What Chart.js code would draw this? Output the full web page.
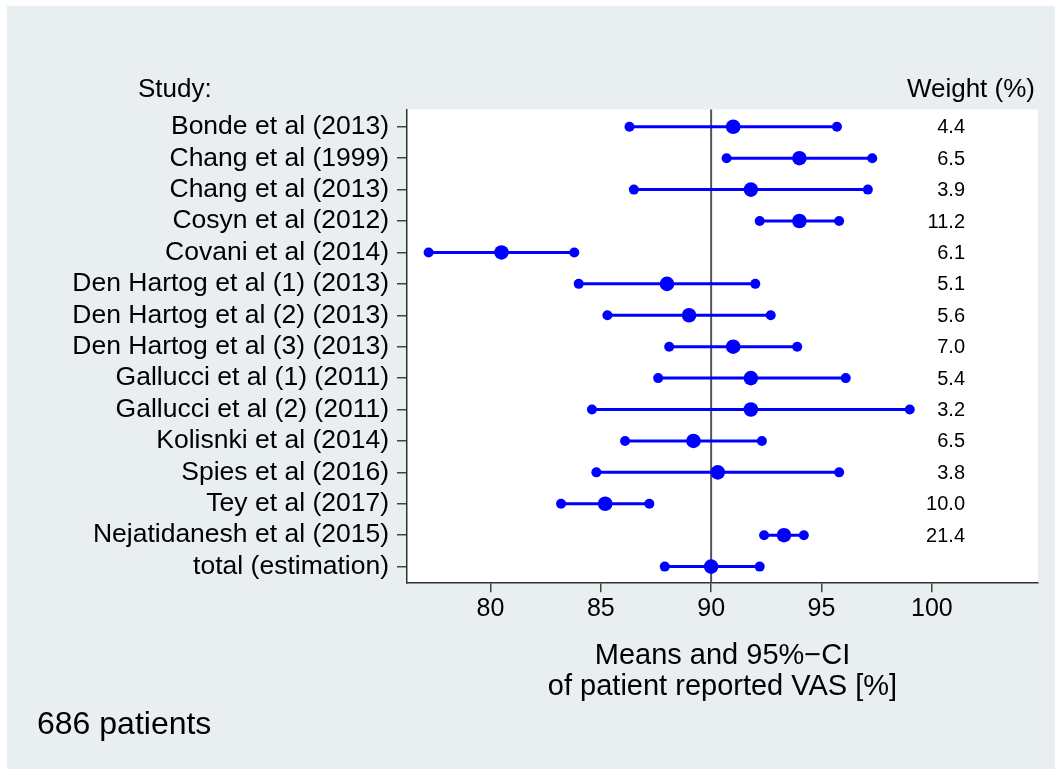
<!DOCTYPE html>
<html>
<head>
<meta charset="utf-8">
<title>Forest plot – patient reported VAS</title>
<script src="https://cdn.jsdelivr.net/npm/chart.js@4/dist/chart.umd.min.js"></script>
<style>
  html, body { margin: 0; padding: 0; background: #ffffff; }
  #wrap { position: absolute; left: 7px; top: 6px; width: 1048px; height: 763px; }
  canvas { display: block; }
</style>
</head>
<body>
<div id="wrap"><canvas id="forest" width="1048" height="763"></canvas></div>
<script>
// Studies, top to bottom
const studies = [
  'Bonde et al (2013)',
  'Chang et al (1999)',
  'Chang et al (2013)',
  'Cosyn et al (2012)',
  'Covani et al (2014)',
  'Den Hartog et al (1) (2013)',
  'Den Hartog et al (2) (2013)',
  'Den Hartog et al (3) (2013)',
  'Gallucci et al (1) (2011)',
  'Gallucci et al (2) (2011)',
  'Kolisnki et al (2014)',
  'Spies et al (2016)',
  'Tey et al (2017)',
  'Nejatidanesh et al (2015)',
  'total (estimation)'
];
// Mean VAS and 95% confidence limits
const means = [91.0, 94.0, 91.8, 94.0, 80.5, 88.0, 89.0, 91.0, 91.8, 91.8, 89.2, 90.3, 85.2, 93.3, 90.0];
const lower = [86.3, 90.7, 86.5, 92.2, 77.2, 84.0, 85.3, 88.1, 87.6, 84.6, 86.1, 84.8, 83.2, 92.4, 87.9];
const upper = [95.7, 97.3, 97.1, 95.8, 83.8, 92.0, 92.7, 93.9, 96.1, 99.0, 92.3, 95.8, 87.2, 94.2, 92.2];
// Study weights in percent (none for the pooled estimate)
const weights = [4.4, 6.5, 3.9, 11.2, 6.1, 5.1, 5.6, 7.0, 5.4, 3.2, 6.5, 3.8, 10.0, 21.4, null];
// x-axis ticks and reference value
const xTicks = [80, 85, 90, 95, 100];
const refValue = 90;

const FONT = '"Liberation Sans", Arial, Helvetica, sans-serif';
const BLUE = '#0000ff';

// One line dataset per study: the CI segment with its end dots
const ciSets = studies.map((name, i) => ({
  type: 'line',
  label: name,
  data: [{ x: lower[i], y: i }, { x: upper[i], y: i }],
  borderColor: BLUE,
  borderWidth: 3,
  pointRadius: 5,
  pointBackgroundColor: BLUE,
  pointBorderWidth: 0,
  fill: false
}));

const meanSet = {
  type: 'scatter',
  label: 'mean',
  data: means.map((m, i) => ({ x: m, y: i })),
  pointRadius: 7.3,
  pointBackgroundColor: BLUE,
  pointBorderWidth: 0,
  showLine: false
};

const framePlugin = {
  id: 'frame',
  beforeDraw(chart) {
    const { ctx, chartArea: a } = chart;
    ctx.save();
    ctx.fillStyle = '#e9eef0';
    ctx.fillRect(0, 0, chart.width, chart.height);
    ctx.fillStyle = '#ffffff';
    ctx.fillRect(a.left, a.top, a.right - a.left, a.bottom - a.top);
    ctx.restore();
  },
  beforeDatasetsDraw(chart) {
    const { ctx, chartArea: a, scales } = chart;
    const x = scales.x.getPixelForValue(refValue);
    ctx.save();
    ctx.strokeStyle = '#555555';
    ctx.lineWidth = 2;
    ctx.beginPath();
    ctx.moveTo(x, a.top);
    ctx.lineTo(x, a.bottom);
    ctx.stroke();
    ctx.restore();
  },
  afterDraw(chart) {
    const { ctx, scales } = chart;
    ctx.save();
    ctx.fillStyle = '#000000';
    ctx.textBaseline = 'alphabetic';
    ctx.font = '26px ' + FONT;
    ctx.textAlign = 'left';
    ctx.fillText('Study:', 131, 91);
    ctx.textAlign = 'right';
    ctx.fillText('Weight (%)', 1028, 91);
    ctx.font = '20px ' + FONT;
    ctx.textBaseline = 'middle';
    weights.forEach((w, i) => {
      if (w === null) return;
      ctx.fillText(w.toFixed(1), 958, scales.y.getPixelForValue(i) + 1);
    });
    ctx.textAlign = 'left';
    ctx.textBaseline = 'alphabetic';
    ctx.font = '32px ' + FONT;
    ctx.fillText('686 patients', 30, 728);
    ctx.restore();
  }
};

new Chart(document.getElementById('forest'), {
  data: { datasets: [...ciSets, meanSet] },
  options: {
    responsive: false,
    animation: false,
    devicePixelRatio: 1,
    layout: { padding: { top: 103.5, right: 17, bottom: 0, left: 0 } },
    plugins: { legend: { display: false }, tooltip: { enabled: false } },
    scales: {
      x: {
        type: 'linear',
        min: 76.22,
        max: 104.81,
        afterBuildTicks(scale) { scale.ticks = xTicks.map(v => ({ value: v })); },
        afterFit(scale) { scale.height = 186.7; },
        grid: { drawOnChartArea: false, drawTicks: true, tickLength: 10, color: '#444444', lineWidth: 1.5 },
        border: { display: true, color: '#333333', width: 1.5 },
        ticks: { color: '#000000', padding: 2, autoSkip: false, font: { family: FONT, size: 25 } },
        title: {
          display: true,
          text: ['Means and 95%\u2212CI', 'of patient reported VAS [%]'],
          color: '#000000',
          font: { family: FONT, size: 29, lineHeight: 1.09 },
          padding: { top: 0, bottom: 66 }
        }
      },
      y: {
        type: 'linear',
        reverse: true,
        min: -0.55,
        max: 14.5,
        afterBuildTicks(scale) { scale.ticks = studies.map((_, i) => ({ value: i })); },
        afterFit(scale) { scale.width = 400; },
        grid: { drawOnChartArea: false, drawTicks: true, tickLength: 10, color: '#444444', lineWidth: 1.5 },
        border: { display: true, color: '#333333', width: 1.5 },
        ticks: {
          color: '#000000',
          padding: 8,
          autoSkip: false,
          font: { family: FONT, size: 26.5, lineHeight: 1.0 },
          callback: (v) => studies[v]
        }
      }
    }
  },
  plugins: [framePlugin]
});
</script>
</body>
</html>
